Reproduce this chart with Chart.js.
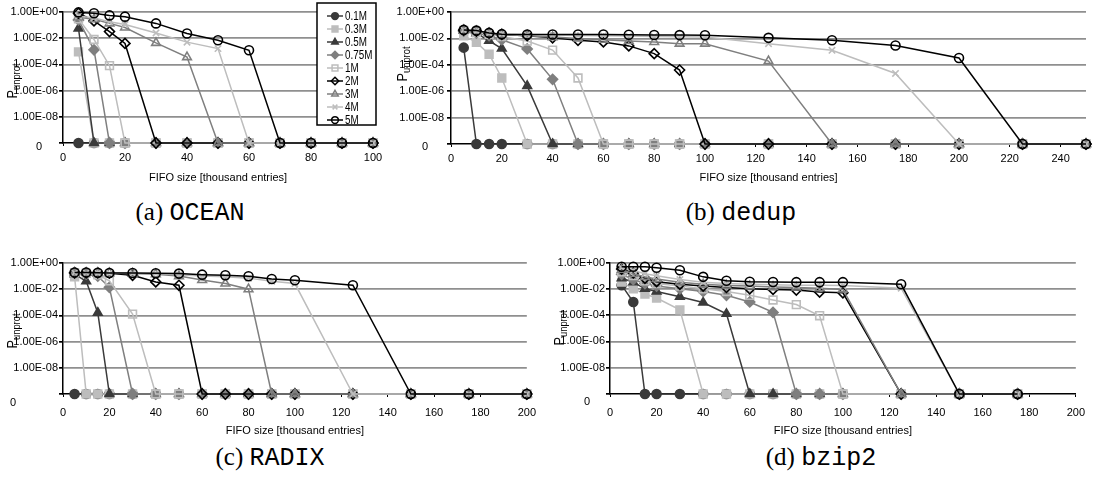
<!DOCTYPE html>
<html lang="en">
<head>
<meta charset="UTF-8">
<title>P_unprot vs FIFO size</title>
<style>
  * { margin: 0; padding: 0; box-sizing: border-box; }
  body { width: 1094px; height: 481px; background: #fff; position: relative; overflow: hidden; }
  canvas { position: absolute; }
  .cap { position: absolute; font-size: 25px; white-space: nowrap; transform: translate(-50%, -50%); color: #000; }
  .cap .lbl { font-family: 'Liberation Serif', 'DejaVu Serif', serif; }
  .cap .tt { font-family: 'Liberation Mono', 'Courier New', 'DejaVu Sans Mono', monospace; }
</style>
</head>
<body>
<canvas id="cA"></canvas>
<canvas id="cB"></canvas>
<canvas id="cC"></canvas>
<canvas id="cD"></canvas>
<div class="cap" style="left:190px; top:213px"><span class="lbl">(a)</span> <span class="tt">OCEAN</span></div>
<div class="cap" style="left:741px; top:213px"><span class="lbl">(b)</span> <span class="tt">dedup</span></div>
<div class="cap" style="left:270px; top:458px"><span class="lbl">(c)</span> <span class="tt">RADIX</span></div>
<div class="cap" style="left:821px; top:458px"><span class="lbl">(d)</span> <span class="tt">bzip2</span></div>

<script src="https://cdn.jsdelivr.net/npm/chart.js@4.4.1/dist/chart.umd.min.js"></script>
<script>
  const seriesNames = ['0.1M', '0.3M', '0.5M', '0.75M', '1M', '2M', '3M', '4M', '5M'];

  // P_unprot per series (rows follow seriesNames), 0 = zero probability
  const oceanX = [5, 10, 15, 20, 30, 40, 50, 60, 70, 80, 90, 100];
  const oceanP = [
    [0, 0, 0, 0, 0, 0, 0, 0, 0, 0, 0, 0],
    [9e-4, 0, 0, 0, 0, 0, 0, 0, 0, 0, 0, 0],
    [5.5e-2, 0, 0, 0, 0, 0, 0, 0, 0, 0, 0, 0],
    [0.25, 1.3e-3, 0, 0, 0, 0, 0, 0, 0, 0, 0, 0],
    [0.3, 8e-3, 8e-5, 0, 0, 0, 0, 0, 0, 0, 0, 0],
    [0.8, 0.21, 0.032, 4e-3, 0, 0, 0, 0, 0, 0, 0, 0],
    [0.4, 0.28, 0.135, 0.066, 4.4e-3, 3.6e-4, 0, 0, 0, 0, 0, 0],
    [0.5, 0.35, 0.18, 0.11, 0.025, 5e-3, 1.6e-3, 0, 0, 0, 0, 0],
    [0.93, 0.8, 0.55, 0.44, 0.135, 0.023, 7e-3, 1.2e-3, 0, 0, 0, 0]
  ];

  const dedupX = [5, 10, 15, 20, 30, 40, 50, 60, 70, 80, 90, 100, 125, 150, 175, 200, 225, 250];
  const dedupP = [
    [2e-3, 0, 0, 0, 0, 0, 0, 0, 0, 0, 0, 0, 0, 0, 0, 0, 0, 0],
    [0.016, 5e-3, 6.3e-4, 1e-5, 0, 0, 0, 0, 0, 0, 0, 0, 0, 0, 0, 0, 0, 0],
    [0.04, 0.025, 6.6e-3, 1.7e-3, 2.5e-6, 0, 0, 0, 0, 0, 0, 0, 0, 0, 0, 0, 0, 0],
    [0.035, 0.025, 0.016, 8e-3, 1.6e-3, 8e-6, 0, 0, 0, 0, 0, 0, 0, 0, 0, 0, 0, 0],
    [0.04, 0.028, 0.02, 0.014, 6.3e-3, 1.3e-3, 1e-5, 0, 0, 0, 0, 0, 0, 0, 0, 0, 0, 0],
    [0.042, 0.035, 0.025, 0.02, 0.016, 0.011, 7.2e-3, 5.4e-3, 2.7e-3, 7e-4, 4e-5, 0, 0, 0, 0, 0, 0, 0],
    [0.042, 0.035, 0.025, 0.02, 0.016, 0.0126, 0.01, 8e-3, 6.3e-3, 5.4e-3, 4e-3, 4e-3, 1.9e-4, 0, 0, 0, 0, 0],
    [0.044, 0.038, 0.026, 0.022, 0.019, 0.018, 0.0166, 0.016, 0.015, 0.014, 0.0135, 0.0126, 4e-3, 1.26e-3, 2.2e-5, 0, 0, 0],
    [0.044, 0.039, 0.026, 0.021, 0.02, 0.02, 0.0195, 0.0195, 0.019, 0.018, 0.0178, 0.0174, 0.011, 7.2e-3, 2.9e-3, 3.3e-4, 0, 0]
  ];

  const radixX = [5, 10, 15, 20, 30, 40, 50, 60, 70, 80, 90, 100, 125, 150, 175, 200];
  const radixP = [
    [0, 0, 0, 0, 0, 0, 0, 0, 0, 0, 0, 0, 0, 0, 0, 0],
    [0.087, 0, 0, 0, 0, 0, 0, 0, 0, 0, 0, 0, 0, 0, 0, 0],
    [0.14, 0.04, 1.6e-4, 0, 0, 0, 0, 0, 0, 0, 0, 0, 0, 0, 0, 0],
    [0.166, 0.14, 0.1, 0.014, 0, 0, 0, 0, 0, 0, 0, 0, 0, 0, 0, 0],
    [0.18, 0.16, 0.126, 0.043, 1.26e-4, 0, 0, 0, 0, 0, 0, 0, 0, 0, 0, 0],
    [0.18, 0.178, 0.174, 0.166, 0.115, 0.036, 0.02, 0, 0, 0, 0, 0, 0, 0, 0, 0],
    [0.18, 0.178, 0.174, 0.17, 0.158, 0.14, 0.1, 0.05, 0.027, 0.01, 0, 0, 0, 0, 0, 0],
    [0.18, 0.178, 0.174, 0.17, 0.16, 0.158, 0.126, 0.1, 0.09, 0.07, 0.04, 0.027, 0, 0, 0, 0],
    [0.186, 0.186, 0.178, 0.174, 0.174, 0.166, 0.155, 0.129, 0.115, 0.098, 0.06, 0.048, 0.02, 0, 0, 0]
  ];

  const bzipX = [5, 10, 15, 20, 30, 40, 50, 60, 70, 80, 90, 100, 125, 150, 175];
  const bzipP = [
    [0.019, 1e-3, 0, 0, 0, 0, 0, 0, 0, 0, 0, 0, 0, 0, 0],
    [0.032, 0.01, 4e-3, 2e-3, 2.5e-4, 0, 0, 0, 0, 0, 0, 0, 0, 0, 0],
    [0.063, 0.032, 0.01, 6.3e-3, 2.5e-3, 9e-4, 1.26e-4, 0, 0, 0, 0, 0, 0, 0, 0],
    [0.126, 0.05, 0.025, 0.016, 0.01, 6.3e-3, 3.2e-3, 1e-3, 1.6e-4, 0, 0, 0, 0, 0, 0],
    [0.2, 0.1, 0.04, 0.025, 0.016, 0.01, 6.3e-3, 3.2e-3, 1.4e-3, 6.3e-4, 9e-5, 0, 0, 0, 0],
    [0.32, 0.16, 0.063, 0.035, 0.022, 0.016, 0.0126, 0.01, 9e-3, 8e-3, 5.6e-3, 5e-3, 0, 0, 0],
    [0.28, 0.14, 0.08, 0.056, 0.032, 0.022, 0.018, 0.016, 0.014, 0.0126, 0.011, 9e-3, 0, 0, 0],
    [0.4, 0.25, 0.14, 0.1, 0.05, 0.032, 0.025, 0.022, 0.02, 0.019, 0.019, 0.018, 0.011, 0, 0],
    [0.47, 0.47, 0.47, 0.4, 0.26, 0.081, 0.041, 0.034, 0.033, 0.032, 0.032, 0.032, 0.022, 0, 0]
  ];

  const FONT = "'Liberation Sans', Arial, sans-serif";
  const DARK = '#3a3a3a', MID = '#7f7f7f', LIGHT = '#bdbdbd', BLACK = '#000000';

  const seriesStyle = [
    {color: DARK, point: 'circle', fill: true, r: 4.5},
    {color: LIGHT, point: 'rect', fill: true, r: 5.5},
    {color: DARK, point: 'triangle', fill: true, r: 5},
    {color: MID, point: 'rectRot', fill: true, r: 5},
    {color: LIGHT, point: 'rect', fill: false, r: 5.5},
    {color: BLACK, point: 'rectRot', fill: false, r: 5},
    {color: MID, point: 'triangle', fill: false, r: 5},
    {color: LIGHT, point: 'crossRot', fill: false, r: 4.5},
    {color: BLACK, point: 'circle', fill: false, r: 4.5}
  ];

  const ZERO = -10; // "0" sits at the bottom of the log axis
  function toLog(p) { return p > 0 ? Math.log10(p) : ZERO; }

  function sciLabel(v) {
    const e = Math.round(v);
    return '1.00E' + (e < 0 ? '-' : '+') + String(Math.abs(e)).padStart(2, '0');
  }

  // narrow text: Arial squeezed like Arial Narrow
  function narrowText(ctx, txt, x, y, size) {
    ctx.save();
    ctx.font = size + 'px ' + FONT;
    ctx.translate(x, y);
    ctx.scale(0.82, 1);
    ctx.fillText(txt, 0, 0);
    ctx.restore();
  }

  function drawLegend(ctx, lg) {
    ctx.fillStyle = '#fff';
    ctx.fillRect(lg.x, lg.y, lg.w, lg.h);
    ctx.strokeStyle = '#000';
    ctx.lineWidth = 1.5;
    ctx.strokeRect(lg.x, lg.y, lg.w, lg.h);
    ctx.textAlign = 'left';
    ctx.textBaseline = 'middle';
    seriesNames.forEach((name, i) => {
      const s = seriesStyle[i];
      const y = lg.y + 13 + i * 13;
      ctx.strokeStyle = s.color;
      ctx.lineWidth = 1.5;
      ctx.beginPath();
      ctx.moveTo(lg.x + 10, y);
      ctx.lineTo(lg.x + 26, y);
      ctx.stroke();
      ctx.fillStyle = s.fill ? s.color : 'rgba(0,0,0,0)';
      Chart.helpers.drawPoint(ctx, {pointStyle: s.point, radius: s.r * 0.75, rotation: 0, borderWidth: 1.5}, lg.x + 18, y);
      ctx.fillStyle = '#000';
      narrowText(ctx, name, lg.x + 28, y + 0.5, 12);
    });
  }

  // y title (P with subscript), the "0" label and the legend
  const decor = {
    id: 'decor',
    afterDraw(chart, args, o) {
      const ctx = chart.ctx;
      ctx.save();
      ctx.fillStyle = '#000';
      ctx.textAlign = 'center';
      ctx.textBaseline = 'middle';
      ctx.font = '11px ' + FONT;
      ctx.fillText('0', o.zeroX, o.zeroY);

      ctx.translate(o.titleX, o.titleY);
      ctx.rotate(-Math.PI / 2);
      ctx.scale(0.85, 1);
      ctx.font = '15px ' + FONT;
      const wP = ctx.measureText('P').width;
      ctx.font = '11px ' + FONT;
      const wS = ctx.measureText('unprot').width;
      const start = -(wP + wS) / 2;
      ctx.textAlign = 'left';
      ctx.textBaseline = 'alphabetic';
      ctx.font = '15px ' + FONT;
      ctx.fillText('P', start, 5);
      ctx.font = '11px ' + FONT;
      ctx.fillText('unprot', start + wP, 8);
      ctx.restore();

      if (o.legend) {
        ctx.save();
        drawLegend(ctx, {x: 317, y: 3, w: 59, h: 122});
        ctx.restore();
      }
    }
  };
  Chart.register(decor);

  function makeChart(id, box, xs, rows, xMax, deco) {
    const cv = document.getElementById(id);
    cv.style.left = box.x + 'px';
    cv.style.top = box.y + 'px';
    cv.width = box.w;
    cv.height = box.h;

    const datasets = rows.map((row, i) => {
      const s = seriesStyle[i];
      return {
        label: seriesNames[i],
        data: xs.map((x, j) => ({x: x, y: toLog(row[j])})),
        borderColor: s.color,
        backgroundColor: s.fill ? s.color : 'rgba(0,0,0,0)',
        borderWidth: 1.5,
        pointStyle: s.point,
        pointRadius: s.r,
        pointBorderWidth: 1.6,
        pointBorderColor: s.color,
        pointBackgroundColor: s.fill ? s.color : 'rgba(0,0,0,0)',
        tension: 0,
        clip: false,
        order: rows.length - i
      };
    });

    new Chart(cv, {
      type: 'line',
      data: {datasets},
      options: {
        responsive: false,
        animation: false,
        devicePixelRatio: 1,
        layout: {padding: {left: 0, top: box.pt, right: box.pr, bottom: 0}},
        plugins: {legend: {display: false}, tooltip: {enabled: false}, decor: deco},
        scales: {
          x: {
            type: 'linear',
            min: 0,
            max: xMax,
            afterFit: s => { s.height = box.xh; },
            ticks: {stepSize: 20, includeBounds: false, font: {family: FONT, size: 11}, color: '#000', padding: box.tp, maxRotation: 0, autoSkip: false},
            grid: {display: true, drawOnChartArea: false, tickLength: 3, tickColor: '#000'},
            border: {color: '#000', width: 1.5},
            title: {display: true, text: 'FIFO size [thousand entries]', font: {family: FONT, size: 11}, color: '#000', padding: 0}
          },
          y: {
            min: ZERO,
            max: 0,
            afterFit: s => { s.width = box.yw; },
            ticks: {stepSize: 2, callback: v => v === ZERO ? '' : sciLabel(v), font: {family: FONT, size: 11}, color: '#000', padding: box.yp},
            grid: {
              color: c => (c.tick && c.tick.value === ZERO) ? 'rgba(0,0,0,0)' : '#8f8f8f',
              lineWidth: 1.7,
              tickColor: '#000',
              tickLength: 4
            },
            border: {color: '#000', width: 1.5}
          }
        }
      }
    });
  }

  makeChart('cA', {x: 0, y: 0, w: 390, h: 185, pt: 12, pr: 17, yw: 63, xh: 42, tp: 5, yp: 1},
    oceanX, oceanP, 100, {zeroX: 39, zeroY: 147, titleX: 12, titleY: 81, legend: true});
  makeChart('cB', {x: 385, y: 0, w: 709, h: 185, pt: 12, pr: 8, yw: 66, xh: 41, tp: 5, yp: 3},
    dedupX, dedupP, 250, {zeroX: 40, zeroY: 147, titleX: 17, titleY: 64, legend: false});
  makeChart('cC', {x: 0, y: 250, w: 545, h: 188, pt: 13, pr: 12, yw: 63, xh: 44, tp: 9, yp: 1},
    radixX, radixP, 200, {zeroX: 13, zeroY: 153, titleX: 12, titleY: 81, legend: false});
  makeChart('cD', {x: 545, y: 250, w: 549, h: 188, pt: 12.5, pr: 11, yw: 65, xh: 44, tp: 9, yp: 1},
    bzipX, bzipP, 200, {zeroX: 42, zeroY: 152, titleX: 14, titleY: 78, legend: false});
</script>
</body>
</html>
